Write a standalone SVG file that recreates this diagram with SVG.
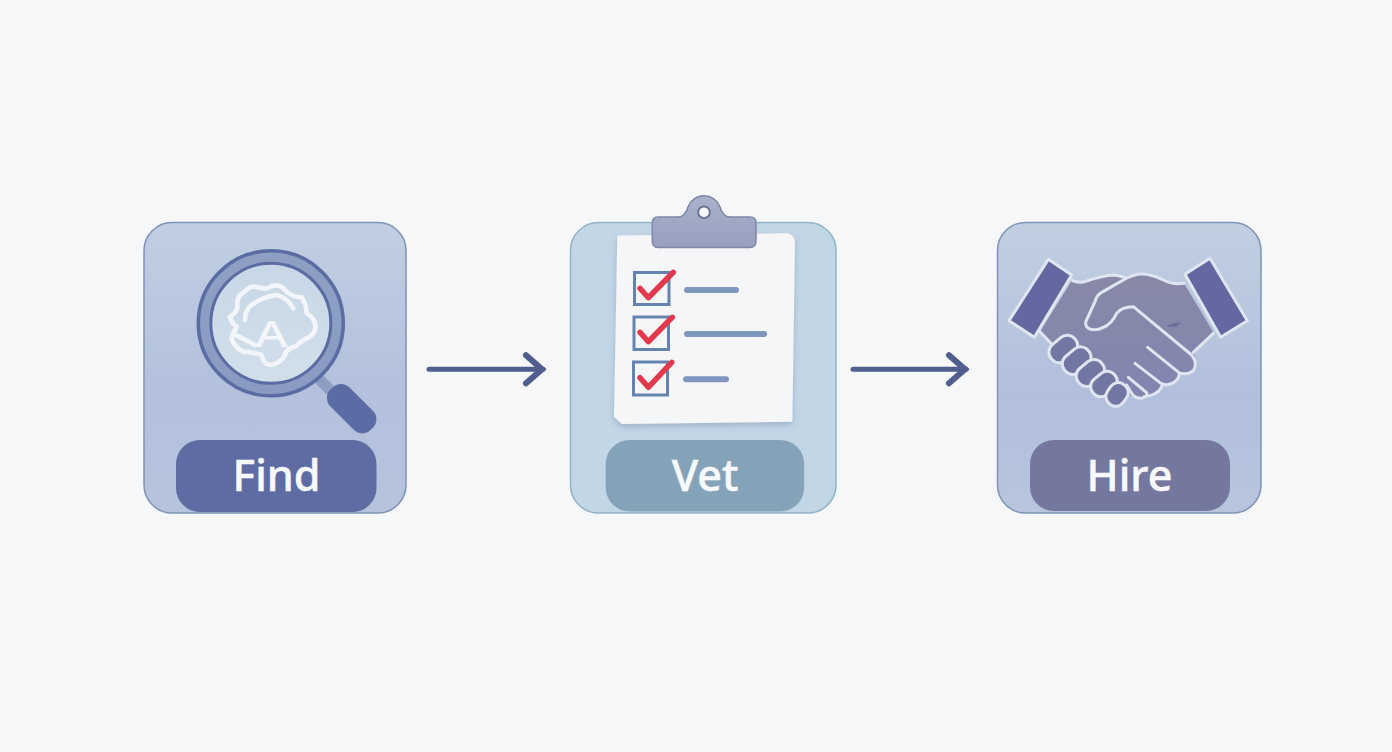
<svg xmlns="http://www.w3.org/2000/svg" width="1392" height="752" viewBox="0 0 1392 752">
<style>
.label{font-family:"Noto Sans","Open Sans","Liberation Sans",sans-serif;font-size:43px;font-weight:500;fill:#f8f9fc;stroke:#f8f9fc;stroke-width:.5px;text-anchor:middle}
.conn{fill:none;stroke:#4f5d8f;stroke-width:5;stroke-linecap:round}
.hs{stroke:#dfe6f1;stroke-width:9;stroke-linejoin:round;stroke-linecap:round}
.box{fill:none;stroke:#6583b0;stroke-width:3}
.chk{fill:none;stroke:#e23a4c;stroke-width:5.5;stroke-linecap:round;stroke-linejoin:round}
.ln{stroke:#7f97bf;stroke-width:6;stroke-linecap:round}
.cl{fill:none;stroke:#f2f6fa;stroke-width:14;stroke-linejoin:round;stroke-linecap:round}
</style>
<defs>
<linearGradient id="cardA" x1="0" y1="0" x2="0" y2="1"><stop offset="0" stop-color="#c0cfe2"/><stop offset=".55" stop-color="#b3c1dc"/><stop offset="1" stop-color="#b6c3dd"/></linearGradient>
<linearGradient id="cardC" x1="0" y1="0" x2="0" y2="1"><stop offset="0" stop-color="#c1cfe1"/><stop offset=".6" stop-color="#b2bfdc"/><stop offset="1" stop-color="#b8c5dd"/></linearGradient>
<linearGradient id="clip" x1="0" y1="0" x2="0" y2="1"><stop offset="0" stop-color="#a9b2cb"/><stop offset="1" stop-color="#979fbd"/></linearGradient>
<linearGradient id="ring" x1="0" y1="0" x2="0" y2="1"><stop offset="0" stop-color="#8f9fc4"/><stop offset="1" stop-color="#8b9ac2"/></linearGradient>
<linearGradient id="lens" x1="0" y1="0" x2="0" y2="1"><stop offset="0" stop-color="#c8d7e6"/><stop offset="1" stop-color="#d0dfe9"/></linearGradient>
<linearGradient id="hand" x1="0" y1="0" x2="0" y2="1"><stop offset="0" stop-color="#8889a6"/><stop offset="1" stop-color="#8185b0"/></linearGradient>
<filter id="shadow" x="-10%" y="-10%" width="120%" height="120%"><feDropShadow dx="0" dy="3" stdDeviation="3" flood-color="#5d7390" flood-opacity=".35"/></filter>
<marker id="head" markerUnits="userSpaceOnUse" markerWidth="30" markerHeight="36" refX="22" refY="18" orient="auto"><path d="M5 4 L21 18 L5 32" fill="none" stroke="#4f5d8f" stroke-width="6" stroke-linecap="round" stroke-linejoin="miter"/></marker>
</defs>
<rect width="1392" height="752" fill="#f6f7f8"/>
<g id="connectors">
<path class="conn" d="M429 369.3H543" marker-end="url(#head)"/>
<path class="conn" d="M853 369.3H966" marker-end="url(#head)"/>
</g>
<g id="node-find">
<rect x="144" y="222.5" width="262" height="290.5" rx="28" fill="url(#cardA)" stroke="#7e94b8" stroke-width="1.5"/>
<path d="M318 378L332 392" stroke="#8e9dc2" stroke-width="11"/>
<rect x="331.5" y="375" width="57" height="27" rx="12" transform="rotate(45 331.5 388.5)" fill="#5c6ba3"/>
<circle cx="270.8" cy="323.3" r="72.5" fill="url(#ring)" stroke="#5a6ca3" stroke-width="3.5"/>
<circle cx="270.800" cy="323.300" r="60" fill="url(#lens)" stroke="#5a6ca3" stroke-width="3"/>
<g transform="translate(130 210) scale(.3333)">
<path class="cl" d="M300 320Q325 305 322 285Q320 255 345 245Q360 225 385 232Q410 240 425 228Q450 220 470 245Q490 262 515 262Q530 285 530 310Q555 325 557 350Q555 375 530 385Q510 395 495 410Q470 415 465 435Q455 460 420 465Q400 465 395 435Q365 425 340 425Q310 410 305 385Q310 365 320 350Q305 340 300 320Z"/>
<path class="cl" d="M345 330Q345 300 365 285Q400 260 440 255Q475 265 490 295M312 372L375 405"/>
</g>
<text x="271.500" y="347" font-family="Noto Sans,Liberation Sans,sans-serif" font-size="37" font-weight="500" fill="#f2f6fa" text-anchor="middle" textLength="33" lengthAdjust="spacingAndGlyphs">A</text>
<rect x="176" y="440" width="200.500" height="72" rx="24" fill="#5f6ca3"/>
<text class="label" x="276.500" y="491">Find</text>
</g>
<g id="node-vet">
<rect x="570.500" y="222.500" width="265.500" height="290.500" rx="28" fill="#c3d6e6" stroke="#8fb3c9" stroke-width="1.500"/>
<path d="M617.300 236.500Q617 235.500 619 235.500L785 233.300Q795 233.300 795 243L792.300 421.700L621.700 424L614 416.700Z" fill="#f5f6f8" filter="url(#shadow)"/>
<path d="M658 217H678Q685 217 688 207A17 17 0 0 1 720 207Q723 217 730 217H750Q756 217 756 223V241Q756 247.500 750 247.500H658Q652.300 247.500 652.300 241V223Q652.300 217 658 217Z" fill="url(#clip)" stroke="#7f88aa" stroke-width="1.500"/>
<circle cx="704" cy="212.300" r="5.800" fill="#f5f6f8" stroke="#636c92" stroke-width="1.800"/>
<rect class="box" x="634.500" y="272.500" width="34.500" height="32"/>
<rect class="box" x="634" y="317" width="34.500" height="32.500"/>
<rect class="box" x="633.500" y="362" width="34" height="33"/>
<path class="chk" d="M640 288.300L648.300 297.700L673.300 272.300"/>
<path class="chk" d="M640 332.300L648.300 341.700L672.300 317.300"/>
<path class="chk" d="M640 377.700L648.300 387.300L671.700 362.300"/>
<path class="ln" d="M687 290H736"/>
<path class="ln" d="M687 334H764"/>
<path class="ln" d="M686 379.300H726"/>
<rect x="605.700" y="440" width="198.500" height="71.500" rx="24" fill="#85a3b8"/>
<text class="label" x="705" y="491">Vet</text>
</g>
<g id="node-hire">
<rect x="997.500" y="222.500" width="263.500" height="290.500" rx="28" fill="url(#cardC)" stroke="#7e94b8" stroke-width="1.500"/>
<g transform="translate(1000 250) scale(.3333)">
<path fill="url(#hand)" d="M215 92Q235 100 255 95Q300 78 340 75Q360 76 378 84Q395 75 420 72Q450 70 490 90Q520 105 552 100L642 250L582 310Q595 340 580 362Q565 375 538 372Q535 395 510 402Q490 408 487 405Q480 428 445 443Q420 450 400 440L340 420L155 282L120 245Z"/>
<path d="M500 228Q525 215 542 218Q530 238 500 228Z" fill="#6b6f9b"/>
<path class="hs" fill="none" d="M218 92Q235 100 255 95Q300 78 340 75Q360 76 378 84"/>
<path class="hs" fill="none" d="M552 100Q520 105 490 90Q450 70 420 72Q395 75 370 90L305 127Q290 135 285 155L262 205Q250 225 265 235Q285 245 310 232Q335 222 350 190Q365 170 400 170L575 315Q595 340 580 362Q565 375 540 370L443 292"/>
<path class="hs" fill="none" d="M538 372Q535 395 510 402Q495 408 480 398L405 340"/>
<path class="hs" fill="none" d="M487 405Q480 428 450 437L432 440M385 382L440 428Q445 440 425 445Q405 445 395 430L380 405"/>
<path class="hs" fill="none" d="M120 245L155 282M640 250L580 307"/>
<rect class="hs" x="144" y="266" width="92" height="62" rx="29" fill="#7276a2" transform="rotate(-40 190 297)"/>
<rect class="hs" x="184" y="301" width="92" height="62" rx="29" fill="#7276a2" transform="rotate(-40 230 332)"/>
<rect class="hs" x="226" y="338" width="90" height="62" rx="29" fill="#7276a2" transform="rotate(-40 271 369)"/>
<rect class="hs" x="270" y="372" width="84" height="60" rx="28" fill="#7276a2" transform="rotate(-40 312 402)"/>
<rect class="hs" x="316" y="404" width="72" height="58" rx="27" fill="#7276a2" transform="rotate(-55 352 434)"/>
<path class="hs" fill="#6468a0" d="M145 28L215 75L103 262L27 212Z"/>
<path class="hs" fill="#6468a0" d="M630 25L742 212L662 262L555 73Z"/>
</g>
<rect x="1030" y="440" width="200" height="71" rx="24" fill="#74789f"/>
<text class="label" x="1129.500" y="491">Hire</text>
</g>
</svg>
